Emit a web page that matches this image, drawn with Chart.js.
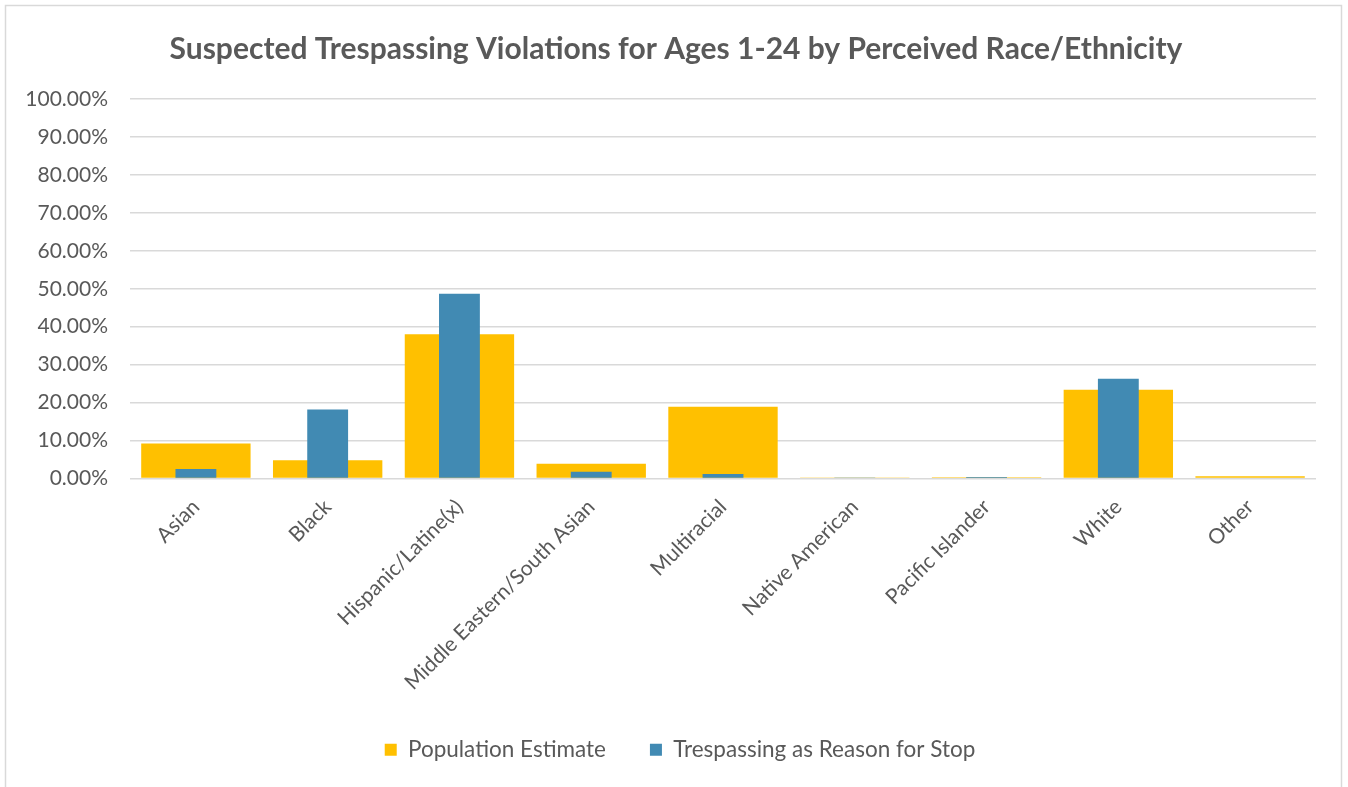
<!DOCTYPE html>
<html>
<head>
<meta charset="utf-8">
<script src="https://cdn.jsdelivr.net/npm/chart.js@4/dist/chart.umd.min.js"></script>
<style>
html,body{margin:0;padding:0;background:#fff;}
#wrap{position:relative;width:1348px;height:787px;}
</style>
</head>
<body>
<div id="wrap"><canvas id="c" width="1348" height="787"></canvas></div>
<script>
const categories = ["Asian","Black","Hispanic/Latine(x)","Middle Eastern/South Asian","Multiracial","Native American","Pacific Islander","White","Other"];
const populationEstimate = [9.2, 4.8, 38.0, 3.9, 18.9, 0.1, 0.3, 23.4, 0.6];
const trespassingStop = [2.5, 18.2, 48.7, 1.8, 1.2, 0.1, 0.4, 26.3, 0];
const seriesNames = ["Population Estimate","Trespassing as Reason for Stop"];
const titleText = "Suspected Trespassing Violations for Ages 1-24 by Perceived Race/Ethnicity";

const FONT = "Lato, 'Open Sans', sans-serif";
const TXT = "#595959";

const borderPlugin = {
  id: 'outerBorder',
  beforeDraw(chart) {
    const ctx = chart.ctx;
    ctx.save();
    ctx.fillStyle = '#fff';
    ctx.fillRect(0,0,chart.width,chart.height);
    ctx.strokeStyle = '#d9d9d9';
    ctx.lineWidth = 1.5;
    ctx.strokeRect(5.5, 5.5, 1336, 800);
    ctx.restore();
  }
};

// nudge title and legend horizontally so they are centred like the original
const shiftPlugin = {
  id: 'shiftBlocks',
  afterLayout(chart) {
    if (chart.legend) { chart.legend.left += 22; chart.legend.right += 22; }
    if (chart.titleBlock) { chart.titleBlock.left += 18; chart.titleBlock.right += 18; }
  }
};

new Chart(document.getElementById('c'), {
  type: 'bar',
  data: {
    labels: categories,
    datasets: [
      {label: seriesNames[0], data: populationEstimate, backgroundColor: '#FFC000', order: 2,
       categoryPercentage: 1, barPercentage: 0.83, grouped: false},
      {label: seriesNames[1], data: trespassingStop, backgroundColor: '#418AB3', order: 1,
       categoryPercentage: 1, barPercentage: 0.31, grouped: false}
    ]
  },
  options: {
    responsive: false,
    animation: false,
    layout: {padding: {top: 25, left: 0, right: 32, bottom: 16}},
    plugins: {
      title: {display: true, text: titleText, color: TXT,
        font: {family: FONT, size: 30, weight: 'bold'}, padding: {top: 6, bottom: 32}},
      legend: {position: 'bottom', labels: {color: TXT, font: {family: FONT, size: 22.5},
        boxWidth: 12, boxHeight: 12, padding: 44,
        sort: (a, b) => a.datasetIndex - b.datasetIndex}},
      tooltip: {enabled: false}
    },
    scales: {
      x: {
        grid: {display: false, drawTicks: false}, border: {display: false},
        ticks: {color: TXT, font: {family: FONT, size: 21}, minRotation: 45, maxRotation: 45, padding: 16},
        afterFit(s) { s.height = 216; }
      },
      y: {
        min: 0, max: 100,
        grid: {color: '#d9d9d9', lineWidth: 1.5, drawTicks: false}, border: {display: false},
        ticks: {stepSize: 10, color: TXT, font: {family: FONT, size: 21}, padding: 22,
          callback: v => v.toFixed(2) + '%'},
        afterFit(s) { s.width = 130; }
      }
    }
  },
  plugins: [borderPlugin, shiftPlugin]
});
</script>
</body>
</html>
